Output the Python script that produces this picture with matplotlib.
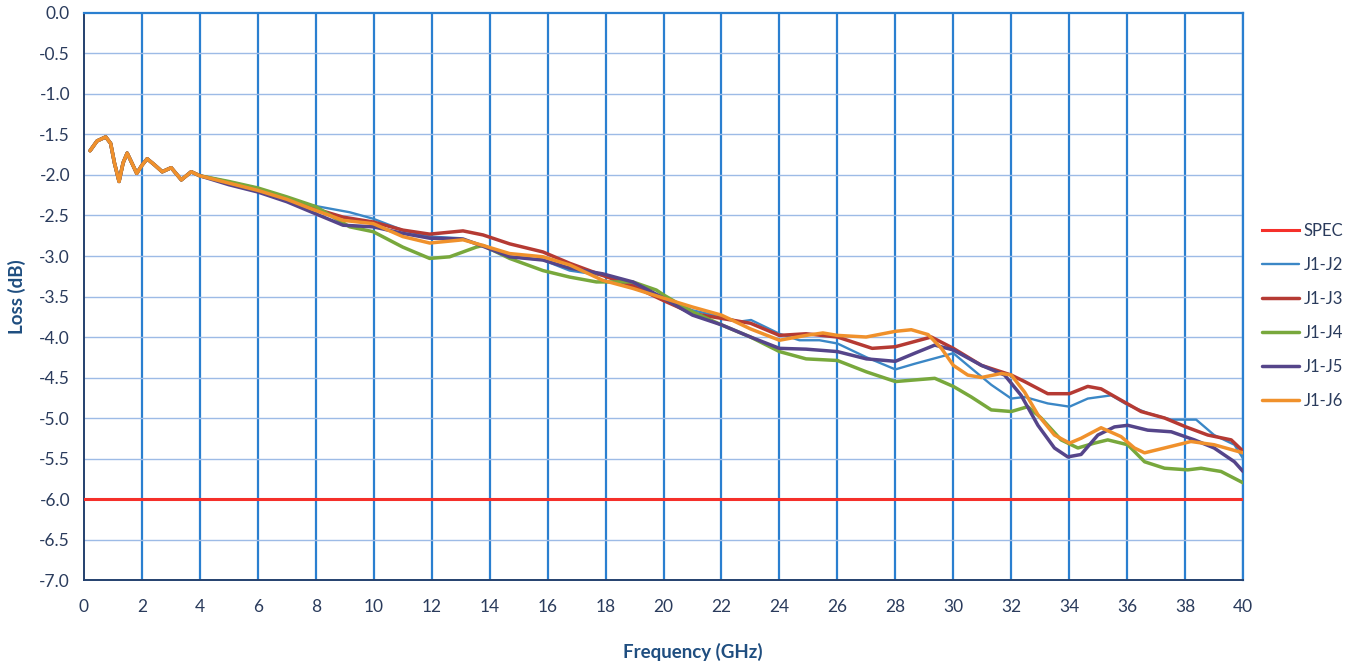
import matplotlib.pyplot as plt

plt.rcParams['font.family'] = ['Lato', 'DejaVu Sans']

# shared ripple at the low end (all traces overlap there)
ripple_x = [0.21, 0.45, 0.75, 0.92, 1.05, 1.21, 1.35, 1.49, 1.65, 1.82, 2.0, 2.18, 2.45,
            2.70, 3.01, 3.36, 3.70, 4.0]
ripple_y = [-1.70, -1.58, -1.53, -1.61, -1.85, -2.08, -1.85, -1.73, -1.85, -1.98, -1.88, -1.80, -1.88,
            -1.96, -1.91, -2.06, -1.96, -2.01]

# J1-J2
j2_x = [5.0, 6.0, 7.0, 7.8, 9.17, 9.98, 11.0, 11.93, 12.97, 13.77, 14.69, 15.84, 16.76, 17.9,
        18.94, 20.0, 21.0, 22.0, 22.62, 23.02, 24.0, 24.69, 25.38, 26.0, 27.0, 28.0, 28.67,
        29.7, 30.0, 30.5, 31.31, 32.0, 32.46, 33.26, 34.01, 34.64, 35.45, 36.02, 36.71, 37.52,
        38.38, 39.0, 39.7, 40.0]
j2_y = [-2.10, -2.18, -2.28, -2.37, -2.46, -2.54, -2.68, -2.76, -2.78, -2.87, -3.01, -3.05, -3.18, -3.24,
        -3.34, -3.52, -3.67, -3.75, -3.81, -3.79, -3.96, -4.04, -4.04, -4.08, -4.25, -4.40, -4.33,
        -4.23, -4.20, -4.35, -4.59, -4.76, -4.74, -4.82, -4.86, -4.76, -4.72, -4.84, -4.94, -5.02,
        -5.02, -5.21, -5.33, -5.50]

# J1-J3
j3_x = [5.0, 6.0, 7.0, 8.0, 8.94, 9.98, 11.0, 11.93, 13.08, 13.77, 14.69, 15.84, 16.76, 17.9,
        18.94, 20.0, 21.0, 22.0, 23.0, 24.0, 24.92, 26.0, 27.2, 28.0, 29.24, 30.0, 30.97, 32.0,
        32.46, 33.26, 34.01, 34.64, 35.1, 35.79, 36.48, 37.29, 38.03, 38.78, 39.59, 40.0]
j3_y = [-2.09, -2.17, -2.29, -2.42, -2.52, -2.58, -2.68, -2.73, -2.69, -2.74, -2.85, -2.95, -3.09, -3.24,
        -3.37, -3.55, -3.71, -3.77, -3.83, -3.98, -3.96, -4.00, -4.14, -4.12, -4.00, -4.14, -4.35, -4.47,
        -4.55, -4.70, -4.70, -4.61, -4.64, -4.78, -4.92, -5.00, -5.11, -5.21, -5.27, -5.41]

# J1-J4
j4_x = [5.0, 6.0, 7.0, 8.0, 9.17, 9.98, 11.0, 11.93, 12.62, 13.54, 13.77, 14.69, 15.84, 16.76,
        17.68, 18.94, 19.75, 20.0, 21.0, 22.0, 23.0, 24.0, 24.92, 26.0, 27.0, 28.0, 28.67, 29.36,
        30.0, 30.62, 31.31, 32.0, 32.57, 33.03, 33.72, 34.3, 34.87, 35.33, 36.02, 36.6, 37.29,
        38.09, 38.55, 39.24, 40.0]
j4_y = [-2.08, -2.16, -2.27, -2.39, -2.64, -2.70, -2.89, -3.03, -3.01, -2.89, -2.87, -3.03, -3.18, -3.26,
        -3.32, -3.32, -3.42, -3.48, -3.69, -3.85, -4.00, -4.18, -4.27, -4.29, -4.43, -4.55, -4.53, -4.51,
        -4.61, -4.74, -4.90, -4.92, -4.86, -5.00, -5.27, -5.37, -5.31, -5.27, -5.33, -5.54, -5.62,
        -5.64, -5.62, -5.66, -5.80]

# J1-J5
j5_x = [5.0, 6.0, 7.0, 8.0, 8.94, 9.98, 11.0, 11.93, 13.08, 13.77, 14.69, 15.84, 16.76, 17.9,
        18.94, 20.0, 21.0, 22.0, 23.0, 24.0, 24.92, 26.0, 27.0, 28.0, 28.67, 29.36, 30.0, 30.97,
        31.77, 32.34, 32.92, 33.49, 33.95, 34.41, 34.99, 35.56, 36.02, 36.71, 37.52, 38.32, 39.0,
        39.7, 40.0]
j5_y = [-2.12, -2.21, -2.33, -2.48, -2.62, -2.64, -2.72, -2.78, -2.79, -2.88, -3.01, -3.05, -3.15, -3.22,
        -3.32, -3.52, -3.73, -3.85, -4.00, -4.14, -4.15, -4.18, -4.27, -4.30, -4.20, -4.10, -4.16, -4.35,
        -4.47, -4.72, -5.09, -5.37, -5.48, -5.45, -5.21, -5.11, -5.09, -5.15, -5.17, -5.27, -5.37,
        -5.54, -5.66]

# J1-J6
j6_x = [5.0, 6.0, 7.0, 7.79, 8.94, 9.98, 11.0, 11.93, 13.08, 13.77, 14.69, 15.84, 16.76, 17.9,
        18.94, 20.0, 21.0, 22.0, 23.0, 24.0, 24.92, 25.5, 26.0, 26.99, 28.0, 28.55, 29.13, 29.59,
        30.0, 30.5, 30.97, 31.66, 32.0, 32.46, 32.92, 33.49, 34.01, 34.41, 35.1, 35.79, 36.25,
        36.6, 37.29, 38.2, 39.0, 40.0]
j6_y = [-2.10, -2.19, -2.30, -2.41, -2.56, -2.60, -2.76, -2.84, -2.80, -2.87, -2.97, -3.01, -3.11, -3.30,
        -3.40, -3.52, -3.63, -3.73, -3.90, -4.04, -3.98, -3.95, -3.98, -4.00, -3.93, -3.91, -3.97, -4.14,
        -4.35, -4.47, -4.50, -4.45, -4.47, -4.68, -4.96, -5.21, -5.31, -5.25, -5.12, -5.23, -5.37,
        -5.43, -5.37, -5.29, -5.33, -5.43]

spec_x = [0, 40]
spec_y = [-6.0, -6.0]

y_ticks = [-0.5 * i for i in range(15)]
y_labels = ['0.0'] + ['%.1f' % v for v in y_ticks[1:]]

series = [
    ('J1-J2', j2_x, j2_y, '#3b87c6', 1.7),
    ('J1-J3', j3_x, j3_y, '#b53a33', 2.5),
    ('J1-J4', j4_x, j4_y, '#78a83c', 2.5),
    ('J1-J5', j5_x, j5_y, '#55458a', 2.5),
    ('J1-J6', j6_x, j6_y, '#f0912c', 2.5),
]

fig = plt.figure(figsize=(13.59, 6.66), dpi=100)
ax = fig.add_axes([0.0618, 0.1291, 0.8529, 0.8514])

ax.plot(spec_x, spec_y, color='#f5302a', lw=2.2, label='SPEC', zorder=3)
for name, xs, ys, col, lw in series:
    ax.plot(ripple_x + xs, ripple_y + ys, color=col, lw=lw, label=name, zorder=3,
            solid_joinstyle='round', solid_capstyle='round')

ax.set_xlim(0, 40)
ax.set_ylim(-7.0, 0.0)
ax.set_xticks(range(0, 41, 2))
ax.set_yticks(y_ticks)
ax.set_yticklabels(y_labels)

# grid: strong blue verticals, pale horizontals
for xv in range(2, 41, 2):
    ax.axvline(xv, color='#2a7fd0', lw=1.6, zorder=1)
for i in range(1, 14):
    ax.axhline(-0.5 * i, color='#9dbbe6', lw=1.0, zorder=1)

for side in ['top', 'right']:
    ax.spines[side].set_color('#2a7fd0')
    ax.spines[side].set_linewidth(1.6)
ax.spines['left'].set_color('#24406e')
ax.spines['bottom'].set_color('#24406e')
ax.spines['left'].set_linewidth(1.4)
ax.spines['bottom'].set_linewidth(1.4)

ax.tick_params(length=0, labelsize=12.5, labelcolor='#2a3b5c', pad=10)
ax.tick_params(axis='x', pad=14)

ax.set_xlabel('Frequency (GHz)', fontsize=13.5, fontweight='bold', color='#1f4e80', va='center')
ax.xaxis.set_label_coords(0.525, -0.127)
ax.set_ylabel('Loss (dB)', fontsize=13.5, fontweight='bold', color='#1f4e80', va='center')
ax.yaxis.set_label_coords(-0.058, 0.5)

leg = fig.legend(loc='upper left', bbox_to_anchor=(1262 / 1359, 1 - 223 / 666), frameon=False,
                 fontsize=12, handlelength=2.2, handletextpad=0.3, labelspacing=1.08,
                 borderpad=0, borderaxespad=0)
for t in leg.get_texts():
    t.set_color('#2a3b5c')

fig.savefig('out.png', dpi=100)
